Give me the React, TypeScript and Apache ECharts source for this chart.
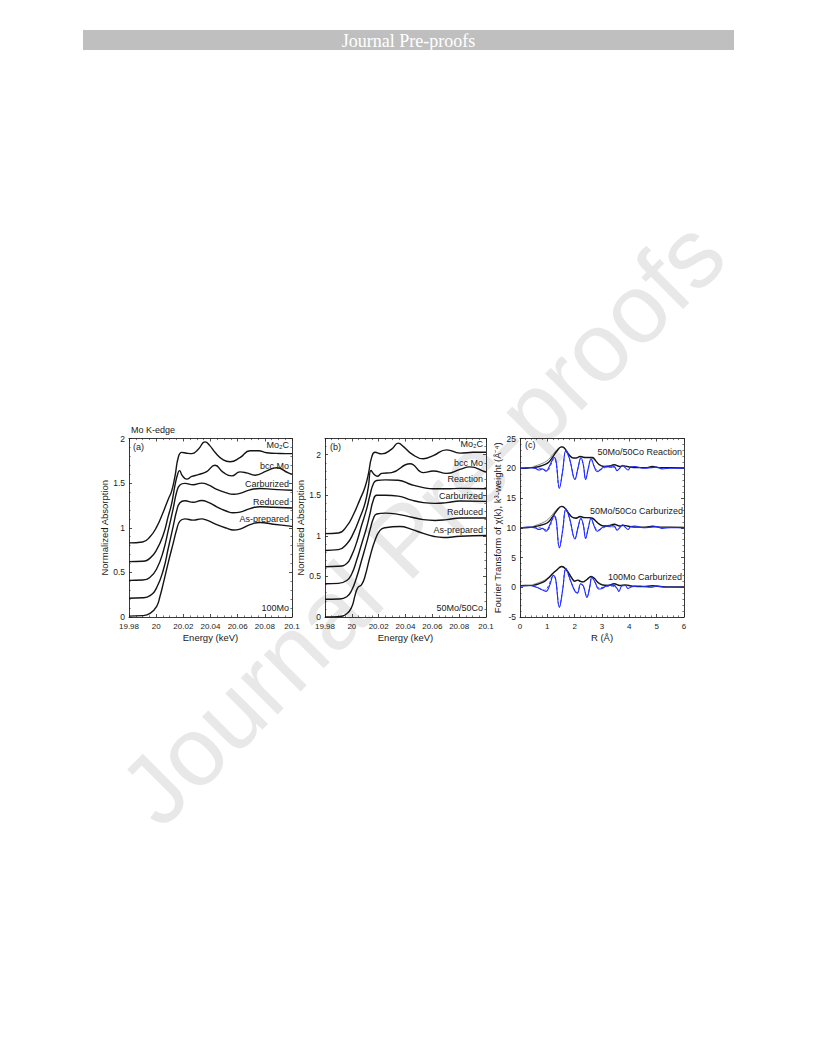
import React, { useEffect, useRef } from 'react';
import * as echarts from 'echarts';

const FONT = '"Liberation Sans", Arial, Helvetica, sans-serif';
const SERIF = '"Liberation Serif", "Times New Roman", serif';
const TEXT = '#1a1a1a';
const LINE = '#141414';
const BLUE = '#1f2cff';

// ---------- Panel (a): 100Mo, Mo K-edge XANES [energy keV, normalized absorption]
const aMo2C = [[19.98,0.83],[19.99,0.84],[19.9955,0.9],[20.0004,1.01],[20.0053,1.18],[20.0089,1.32],[20.0114,1.41],[20.0139,1.58],[20.0163,1.79],[20.0188,1.845],[20.0225,1.835],[20.0262,1.83],[20.031,1.88],[20.036,1.962],[20.0395,1.92],[20.0433,1.845],[20.0494,1.76],[20.0544,1.74],[20.0617,1.785],[20.0691,1.862],[20.0752,1.862],[20.0814,1.84],[20.0912,1.832],[20.1,1.83]];
const aBccMo = [[19.98,0.62],[19.99,0.625],[19.9955,0.66],[20.0004,0.755],[20.0053,0.925],[20.0089,1.13],[20.0114,1.27],[20.0139,1.48],[20.0158,1.6],[20.0172,1.64],[20.0192,1.585],[20.0225,1.545],[20.0262,1.575],[20.031,1.595],[20.0372,1.63],[20.0433,1.7],[20.0494,1.62],[20.0556,1.581],[20.0617,1.626],[20.0666,1.615],[20.0728,1.589],[20.0814,1.637],[20.0887,1.672],[20.0973,1.615],[20.1,1.6]];
const aCarburized = [[19.98,0.41],[19.99,0.415],[19.9955,0.445],[20.0004,0.54],[20.0053,0.74],[20.0089,0.97],[20.0126,1.22],[20.0151,1.4],[20.0175,1.48],[20.0212,1.497],[20.0273,1.482],[20.0335,1.5],[20.0384,1.48],[20.0446,1.43],[20.0519,1.39],[20.0568,1.375],[20.0617,1.385],[20.0691,1.425],[20.0764,1.44],[20.0862,1.43],[20.1,1.42]];
const aReduced = [[19.98,0.21],[19.99,0.215],[19.9955,0.24],[20.0004,0.33],[20.0053,0.53],[20.0089,0.77],[20.0126,1.02],[20.0151,1.19],[20.0175,1.28],[20.0212,1.302],[20.0273,1.285],[20.0335,1.305],[20.0384,1.285],[20.0446,1.235],[20.0519,1.185],[20.0568,1.168],[20.0617,1.175],[20.0691,1.215],[20.0764,1.235],[20.0862,1.23],[20.1,1.222]];
const aAsPrepared = [[19.98,0.01],[19.99,0.015],[19.9955,0.04],[20.0004,0.12],[20.0028,0.23],[20.0053,0.38],[20.0089,0.61],[20.0126,0.83],[20.0151,0.98],[20.0175,1.075],[20.0212,1.1],[20.0273,1.085],[20.0335,1.1],[20.0372,1.085],[20.0446,1.035],[20.0519,0.995],[20.0568,0.975],[20.0617,0.985],[20.0691,1.035],[20.0764,1.058],[20.0862,1.04],[20.0985,1.018],[20.1,1.015]];

// ---------- Panel (b): 50Mo/50Co
const bMo2C = [[19.98,1.027],[19.99,1.035],[19.9962,1.12],[20.0011,1.26],[20.0061,1.45],[20.0098,1.6],[20.0123,1.76],[20.0148,1.97],[20.0173,2.03],[20.0223,2.01],[20.0297,2.07],[20.0346,2.143],[20.0385,2.1],[20.0446,2.01],[20.0533,1.95],[20.0607,1.99],[20.0707,2.06],[20.0806,2.02],[20.0905,2.03],[20.1,2.03]];
const bBccMo = [[19.98,0.82],[19.99,0.83],[19.9962,0.9],[20.0011,1.03],[20.0061,1.23],[20.0098,1.4],[20.0123,1.6],[20.0143,1.805],[20.0165,1.76],[20.019,1.735],[20.0223,1.77],[20.0297,1.78],[20.0434,1.889],[20.0533,1.78],[20.0607,1.8],[20.0707,1.77],[20.0806,1.82],[20.088,1.85],[20.0993,1.79],[20.1,1.786]];
const bReaction = [[19.98,0.62],[19.99,0.625],[19.9962,0.66],[19.9999,0.76],[20.0036,0.92],[20.0073,1.13],[20.0111,1.335],[20.0135,1.5],[20.016,1.64],[20.0185,1.683],[20.025,1.69],[20.0346,1.685],[20.0446,1.63],[20.0533,1.595],[20.0607,1.58],[20.0707,1.58],[20.0806,1.585],[20.1,1.58]];
const bCarburized = [[19.98,0.41],[19.99,0.415],[19.9962,0.45],[19.9999,0.53],[20.0036,0.7],[20.0073,0.9],[20.0111,1.11],[20.0135,1.27],[20.016,1.44],[20.0185,1.5],[20.025,1.5],[20.0346,1.49],[20.0446,1.44],[20.0533,1.41],[20.062,1.4],[20.0707,1.41],[20.0806,1.43],[20.1,1.425]];
const bReduced = [[19.98,0.218],[19.99,0.222],[19.9962,0.25],[19.9999,0.33],[20.0036,0.49],[20.0073,0.7],[20.0111,0.92],[20.0135,1.07],[20.016,1.21],[20.0185,1.27],[20.025,1.28],[20.0346,1.265],[20.0446,1.23],[20.0533,1.2],[20.062,1.19],[20.0707,1.2],[20.0806,1.22],[20.1,1.22]];
const bAsPrepared = [[19.98,0.0],[19.99,0.005],[19.9962,0.04],[19.9999,0.123],[20.0024,0.267],[20.0044,0.36],[20.0073,0.4],[20.0098,0.5],[20.0135,0.74],[20.0173,0.945],[20.021,1.068],[20.0247,1.1],[20.0359,1.115],[20.0446,1.08],[20.0533,1.03],[20.0607,0.995],[20.0682,0.98],[20.0806,0.995],[20.1,1.005]];

// ---------- Panel (c): Fourier transforms [R (Å), value]
const cTopMag = [[0,20.0],[0.3,20.05],[0.5,20.15],[0.7,20.3],[0.9,20.6],[1.05,21.0],[1.2,21.9],[1.35,22.9],[1.52,23.6],[1.62,23.4],[1.75,22.5],[1.9,21.8],[2.05,21.7],[2.2,22.0],[2.35,21.8],[2.5,21.8],[2.65,21.8],[2.78,21.2],[2.9,20.6],[3.05,20.3],[3.2,20.3],[3.45,20.6],[3.65,20.3],[3.8,20.4],[4.0,20.2],[4.3,20.1],[4.6,20.1],[4.85,20.3],[5.1,20.1],[5.5,20.1],[6,20.05]];
const cTopMagFit = [[0.5,20.3],[0.7,20.6],[0.9,21.0],[1.05,21.5],[1.2,22.3],[1.35,23.1],[1.52,23.6],[1.65,23.3],[1.8,22.4],[1.95,21.8],[2.1,21.8],[2.25,22.0],[2.4,21.8],[2.55,21.8],[2.68,21.6],[2.8,21.0],[2.95,20.5],[3.1,20.3],[3.3,20.2],[3.5,20.1]];
const cTopReal = [[0,20.0],[0.3,20.1],[0.55,20.0],[0.7,19.7],[0.82,19.9],[0.95,19.5],[1.1,20.6],[1.25,21.8],[1.32,21.2],[1.44,16.6],[1.56,19.5],[1.68,23.0],[1.82,21.5],[2.01,18.1],[2.12,20.0],[2.23,21.8],[2.32,20.5],[2.4,18.1],[2.5,20.0],[2.6,21.6],[2.72,20.2],[2.82,19.4],[2.95,19.8],[3.1,20.3],[3.3,20.4],[3.45,20.3],[3.55,19.6],[3.65,20.0],[3.75,20.5],[3.85,20.1],[3.95,19.7],[4.05,20.2],[4.2,20.3],[4.5,20.0],[4.8,20.1],[5.0,20.2],[5.2,19.9],[5.5,20.0],[6.0,20.0]];
const cTopRealFit = [[0.5,20.0],[0.7,20.0],[0.85,19.8],[1.0,19.6],[1.12,20.5],[1.25,21.6],[1.32,21.0],[1.44,16.7],[1.56,19.6],[1.68,22.9],[1.82,21.4],[2.01,18.2],[2.12,20.0],[2.23,21.7],[2.32,20.5],[2.4,18.2],[2.5,20.0],[2.6,21.5],[2.72,20.3],[2.85,19.6],[3.0,19.9],[3.2,20.2],[3.4,20.1]];

const cMidMag = [[0,10.0],[0.3,10.05],[0.5,10.15],[0.7,10.35],[0.9,10.6],[1.05,11.0],[1.2,11.9],[1.35,12.9],[1.52,13.6],[1.62,13.4],[1.75,12.6],[1.9,11.8],[2.05,11.6],[2.2,11.9],[2.35,11.7],[2.5,11.7],[2.65,11.6],[2.78,11.1],[2.9,10.6],[3.05,10.3],[3.2,10.3],[3.45,10.6],[3.65,10.3],[3.8,10.4],[4.0,10.2],[4.3,10.1],[4.6,10.1],[4.85,10.25],[5.1,10.1],[5.5,10.1],[6,10.05]];
const cMidMagFit = [[0.5,10.3],[0.7,10.6],[0.9,11.0],[1.05,11.5],[1.2,12.3],[1.35,13.1],[1.52,13.55],[1.65,13.3],[1.8,12.4],[1.95,11.7],[2.1,11.7],[2.25,11.9],[2.4,11.7],[2.55,11.7],[2.68,11.5],[2.8,11.0],[2.95,10.5],[3.1,10.3],[3.3,10.2],[3.5,10.1]];
const cMidReal = [[0,10.0],[0.3,10.1],[0.55,10.0],[0.7,9.7],[0.82,9.9],[0.95,9.4],[1.1,10.6],[1.25,12.0],[1.32,11.4],[1.44,6.6],[1.56,9.5],[1.68,13.2],[1.82,11.5],[2.01,8.1],[2.12,10.0],[2.23,11.6],[2.32,10.4],[2.4,8.2],[2.5,10.0],[2.6,11.6],[2.72,10.2],[2.82,9.4],[2.95,9.8],[3.1,10.3],[3.3,10.4],[3.45,10.3],[3.55,9.6],[3.65,10.0],[3.75,10.5],[3.85,10.1],[3.95,9.7],[4.05,10.2],[4.2,10.3],[4.5,10.0],[4.8,10.1],[5.0,10.2],[5.2,9.9],[5.5,10.0],[6.0,10.0]];
const cMidRealFit = [[0.5,10.0],[0.7,10.0],[0.85,9.8],[1.0,9.6],[1.12,10.5],[1.25,11.8],[1.32,11.2],[1.44,6.7],[1.56,9.6],[1.68,13.1],[1.82,11.4],[2.01,8.2],[2.12,10.0],[2.23,11.5],[2.32,10.4],[2.4,8.3],[2.5,10.0],[2.6,11.5],[2.72,10.3],[2.85,9.6],[3.0,9.9],[3.2,10.2],[3.4,10.1]];

const cBotMag = [[0,0.25],[0.3,0.3],[0.5,0.35],[0.7,0.6],[0.9,1.0],[1.05,1.6],[1.2,2.3],[1.35,2.9],[1.52,3.5],[1.62,3.3],[1.75,2.6],[1.9,1.5],[2.0,1.0],[2.1,1.2],[2.2,1.0],[2.3,0.9],[2.45,1.3],[2.6,1.8],[2.72,1.5],[2.85,0.8],[3.0,0.4],[3.2,0.3],[3.45,0.6],[3.65,0.3],[3.85,0.4],[4.1,0.2],[4.5,0.1],[4.85,0.25],[5.2,0.1],[6,0.05]];
const cBotMagFit = [[0.5,0.5],[0.7,0.8],[0.9,1.2],[1.05,1.7],[1.2,2.4],[1.35,3.0],[1.52,3.45],[1.65,3.2],[1.8,2.3],[1.95,1.3],[2.05,1.1],[2.15,1.2],[2.28,0.9],[2.45,1.3],[2.6,1.75],[2.72,1.5],[2.85,0.9],[3.0,0.5],[3.2,0.35],[3.5,0.3]];
const cBotReal = [[0,0.2],[0.3,0.3],[0.55,0.1],[0.75,-0.3],[0.95,-0.7],[1.1,0.5],[1.22,2.0],[1.3,1.5],[1.44,-3.4],[1.56,-0.5],[1.68,3.2],[1.82,1.5],[2.0,-0.6],[2.1,-1.0],[2.22,0.6],[2.32,0.2],[2.45,-1.7],[2.55,0.0],[2.63,1.7],[2.75,0.8],[2.88,-0.3],[3.0,-0.2],[3.2,0.3],[3.4,0.4],[3.55,-0.2],[3.62,-0.7],[3.72,0.2],[3.85,0.3],[3.95,-0.2],[4.1,0.1],[4.4,0.2],[4.8,0.0],[5.0,0.2],[5.3,0.0],[6,0.0]];
const cBotRealFit = [[0.5,0.2],[0.7,-0.2],[0.9,-0.5],[1.05,0.3],[1.2,1.8],[1.3,1.4],[1.44,-3.3],[1.56,-0.4],[1.68,3.1],[1.82,1.4],[2.0,-0.5],[2.1,-0.9],[2.22,0.5],[2.32,0.1],[2.45,-1.6],[2.55,0.0],[2.63,1.6],[2.75,0.8],[2.88,-0.1],[3.05,0.0],[3.3,0.2],[3.5,0.1]];

// ---------- Axis settings
const aXTicks = { min: 19.98, max: 20.1, interval: 0.02 };
const aYTicks = { min: 0, max: 2, interval: 0.5 };
const bYTicks = { min: 0, max: 2.2, interval: 0.5 };
const cXTicks = { min: 0, max: 6, interval: 1 };
const cYTicks = { min: -5, max: 25, interval: 5 };

const GRID_TOP = 438.5;
const GRID_H = 178.5;

const axisCommon = (minorSplit: number) => ({
  type: 'value',
  axisLine: { show: true, onZero: false, lineStyle: { color: '#222', width: 0.9 } },
  axisTick: { show: true, inside: true, length: 3, lineStyle: { color: '#222', width: 0.8 } },
  minorTick: { show: true, splitNumber: minorSplit, length: 1.6, lineStyle: { color: '#222', width: 0.6 } },
  splitLine: { show: false },
  minorSplitLine: { show: false },
});

const labelStyle = { show: true, fontFamily: FONT, fontSize: 8.5, color: TEXT };
const nameStyle = { fontFamily: FONT, fontSize: 9.5, color: TEXT };

function xPair(grid: number, t: any, minorSplit: number, name: string) {
  return [
    { ...axisCommon(minorSplit), ...t, gridIndex: grid, position: 'bottom', name, nameLocation: 'middle', nameGap: 15, nameTextStyle: nameStyle, axisLabel: { ...labelStyle, fontSize: 8, margin: 5 } },
    { ...axisCommon(minorSplit), ...t, gridIndex: grid, position: 'top', axisLabel: { show: false } },
  ];
}
function yPair(grid: number, t: any, minorSplit: number, name: string, gap: number, hideMax: boolean) {
  return [
    { ...axisCommon(minorSplit), ...t, gridIndex: grid, position: 'left', name, nameLocation: 'middle', nameRotate: 90, nameGap: gap, nameTextStyle: nameStyle, axisLabel: { ...labelStyle, margin: 4, showMaxLabel: hideMax ? false : undefined } },
    { ...axisCommon(minorSplit), ...t, gridIndex: grid, position: 'right', axisLabel: { show: false } },
  ];
}

function line(data: number[][], xi: number, yi: number, color = LINE, width = 1.4, type: any = 'solid', smooth = 0.5) {
  return { type: 'line', data, xAxisIndex: xi, yAxisIndex: yi, showSymbol: false, smooth, silent: true, lineStyle: { color, width, type }, z: 3 };
}

function label(text: string, x: number, y: number, align = 'right', size = 9) {
  return { type: 'text', x, y, z: 10, silent: true, style: { text, fontFamily: FONT, fontSize: size, fill: TEXT, align, textAlign: align, verticalAlign: 'middle', textVerticalAlign: 'middle' } };
}

const option: any = {
  animation: false,
  backgroundColor: '#ffffff',
  grid: [
    { left: 129, top: GRID_TOP, width: 163, height: GRID_H, outerBoundsMode: 'none' },
    { left: 325, top: GRID_TOP, width: 161, height: GRID_H, outerBoundsMode: 'none' },
    { left: 520, top: GRID_TOP, width: 164, height: GRID_H, outerBoundsMode: 'none' },
  ],
  xAxis: [
    ...xPair(0, aXTicks, 4, 'Energy (keV)'),
    ...xPair(1, aXTicks, 4, 'Energy (keV)'),
    ...xPair(2, cXTicks, 5, 'R (Å)'),
  ],
  yAxis: [
    ...yPair(0, aYTicks, 5, 'Normalized Absorption', 16, false),
    ...yPair(1, bYTicks, 5, 'Normalized Absorption', 14, true),
    ...yPair(2, cYTicks, 5, 'Fourier Transform of χ(k), k³-weight (Å⁻⁴)', 15, false),
  ],
  series: [
    line(aMo2C, 0, 0), line(aBccMo, 0, 0), line(aCarburized, 0, 0), line(aReduced, 0, 0), line(aAsPrepared, 0, 0),
    line(bMo2C, 2, 2), line(bBccMo, 2, 2), line(bReaction, 2, 2), line(bCarburized, 2, 2), line(bReduced, 2, 2), line(bAsPrepared, 2, 2),
    line(cTopMagFit, 4, 4, '#6a6a6a', 0.8, 'solid', 0.4),
    line(cMidMagFit, 4, 4, '#6a6a6a', 0.8, 'solid', 0.4),
    line(cBotMagFit, 4, 4, '#6a6a6a', 0.8, 'solid', 0.4),
    line(cTopMag, 4, 4, LINE, 1.4, 'solid', 0.4),
    line(cMidMag, 4, 4, LINE, 1.4, 'solid', 0.4),
    line(cBotMag, 4, 4, LINE, 1.4, 'solid', 0.4),
    line(cTopReal, 4, 4, BLUE, 1.1, 'solid', 0.4),
    line(cMidReal, 4, 4, BLUE, 1.1, 'solid', 0.4),
    line(cBotReal, 4, 4, BLUE, 1.1, 'solid', 0.4),
    line(cTopRealFit, 4, 4, BLUE, 0.9, [3, 2], 0.4),
    line(cMidRealFit, 4, 4, BLUE, 0.9, [3, 2], 0.4),
    line(cBotRealFit, 4, 4, BLUE, 0.9, [3, 2], 0.4),
  ],
  graphic: [
    { type: 'text', x: 422, y: 522, rotation: Math.PI / 4, z: 0, silent: true,
      style: { text: 'Journal Pre-proofs', fontFamily: FONT, fontSize: 98, fill: '#e8e8e8', align: 'center', textAlign: 'center', verticalAlign: 'middle', textVerticalAlign: 'middle' } },
    { type: 'rect', shape: { x: 83, y: 30, width: 651, height: 20 }, style: { fill: '#bfbfbf' }, z: 1, silent: true },
    { type: 'text', x: 408.5, y: 40.5, z: 2, silent: true,
      style: { text: 'Journal Pre-proofs', fontFamily: SERIF, fontSize: 18, fill: '#ffffff', align: 'center', textAlign: 'center', verticalAlign: 'middle', textVerticalAlign: 'middle' } },
    label('Mo K-edge', 131, 430, 'left'),
    label('(a)', 133, 447, 'left'),
    label('Mo₂C', 289, 445),
    label('bcc Mo', 289, 466),
    label('Carburized', 289, 484),
    label('Reduced', 289, 501.5),
    label('As-prepared', 289, 519),
    label('100Mo', 289, 608),
    label('(b)', 330, 447, 'left'),
    label('Mo₂C', 483, 444),
    label('bcc Mo', 483, 463),
    label('Reaction', 483, 479),
    label('Carburized', 483, 496),
    label('Reduced', 483, 512),
    label('As-prepared', 483, 529.5),
    label('50Mo/50Co', 483, 608),
    label('(c)', 525, 445, 'left'),
    label('50Mo/50Co Reaction', 682, 452),
    label('50Mo/50Co Carburized', 683, 511),
    label('100Mo Carburized', 682, 577),
  ],
};

export default function App() {
  const ref = useRef<HTMLDivElement>(null);
  useEffect(() => {
    if (!ref.current) return;
    const chart = echarts.init(ref.current, null, { renderer: 'svg' });
    chart.setOption(option);
    return () => chart.dispose();
  }, []);
  return <div ref={ref} style={{ position: 'absolute', left: 0, top: 0, width: 816, height: 1056, background: '#fff' }} />;
}
